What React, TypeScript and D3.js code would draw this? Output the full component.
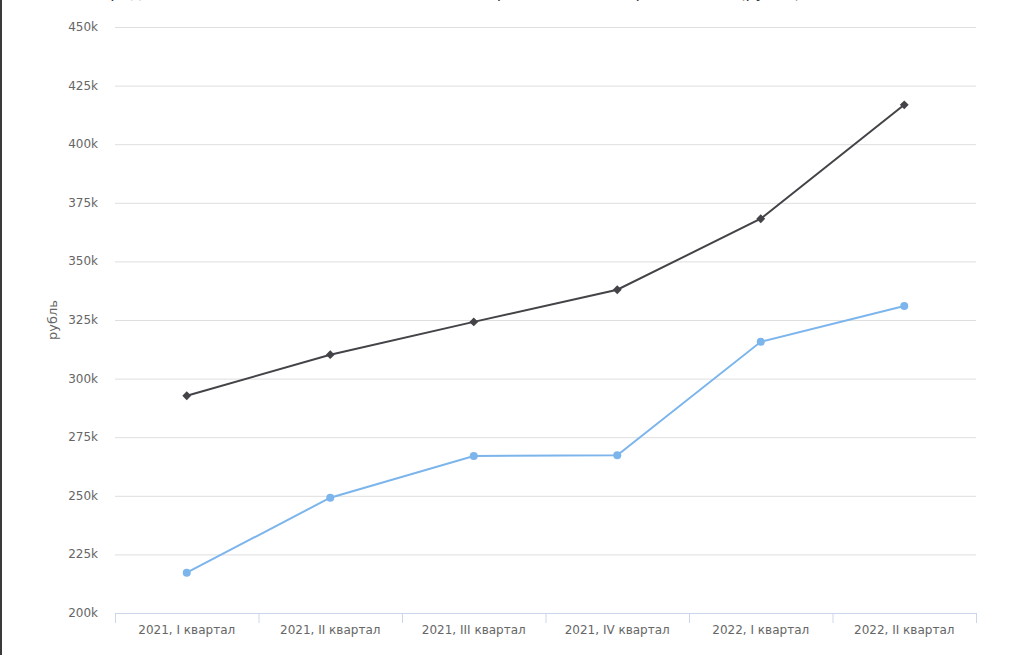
import React from "react";
import * as d3 from "d3";

const categories = [
  "2021, I квартал",
  "2021, II квартал",
  "2021, III квартал",
  "2021, IV квартал",
  "2022, I квартал",
  "2022, II квартал",
];
const seriesDark = [292.7, 310.2, 324.2, 337.9, 368.2, 416.8];
const seriesBlue = [217.2, 249.2, 267.0, 267.3, 315.7, 331.0];
const yTicks = [200, 225, 250, 275, 300, 325, 350, 375, 400, 425, 450];

const W = 1010;
const H = 655;
const left = 115;
const right = 976;
const top = 27;
const bottom = 613;
const font = "'DejaVu Sans', Verdana, sans-serif";

export default function App() {
  const x = d3.scaleBand<string>().domain(categories).range([left, right]);
  const y = d3.scaleLinear().domain([200, 450]).range([bottom, top]);
  const cx = (c: string) => (x(c) as number) + x.bandwidth() / 2;
  const line = d3
    .line<number>()
    .x((_, i) => cx(categories[i]))
    .y((d) => y(d));
  const diamond = d3.symbol().type(d3.symbolDiamond2).size(50)();
  const tickPositions = [left, ...categories.map((c) => (x(c) as number) + x.bandwidth())];

  return (
    <svg
      width={W}
      height={H}
      style={{ position: "absolute", left: 0, top: 0, display: "block", background: "#fff" }}
      fontFamily={font}
    >
      <rect x={0} y={0} width={2} height={H} fill="#3a3a3a" />
      <text x={450} y={-2} textAnchor="middle" fontSize={16} fill="#333">
        Среднемесячная номинальная начисленная заработная плата работников (рубль)
      </text>
      {yTicks.map((t) => (
        <g key={t}>
          {t !== 200 && (
            <line x1={left} x2={right} y1={y(t) + 0.5} y2={y(t) + 0.5} stroke="#dedede" strokeWidth={1} />
          )}
          <text x={98} y={y(t) + 4} textAnchor="end" fontSize={12} fill="#666">
            {t}k
          </text>
        </g>
      ))}
      <line x1={left} x2={right} y1={bottom + 0.5} y2={bottom + 0.5} stroke="#ccd6eb" />
      {tickPositions.map((p, i) => (
        <line key={i} x1={p + 0.5} x2={p + 0.5} y1={bottom} y2={bottom + 10} stroke="#ccd6eb" />
      ))}
      {categories.map((c) => (
        <text key={c} x={cx(c)} y={634} textAnchor="middle" fontSize={12} fill="#666">
          {c}
        </text>
      ))}
      <text
        transform={`translate(57,${(top + bottom) / 2}) rotate(-90)`}
        textAnchor="middle"
        fontSize={13}
        fill="#666"
      >
        рубль
      </text>
      <path d={line(seriesBlue) || ""} fill="none" stroke="#7cb5ec" strokeWidth={2} />
      <path d={line(seriesDark) || ""} fill="none" stroke="#434348" strokeWidth={2} />
      {seriesBlue.map((v, i) => (
        <circle key={"b" + i} cx={cx(categories[i])} cy={y(v)} r={4} fill="#7cb5ec" />
      ))}
      {seriesDark.map((v, i) => (
        <path
          key={"d" + i}
          d={diamond || ""}
          transform={`translate(${cx(categories[i])},${y(v)})`}
          fill="#434348"
        />
      ))}
    </svg>
  );
}
